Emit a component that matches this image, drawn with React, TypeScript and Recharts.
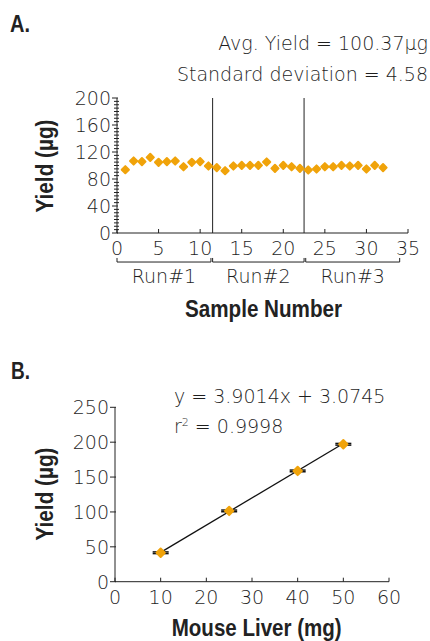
import { ScatterChart, Scatter, XAxis, YAxis, ReferenceLine, ReferenceArea, ErrorBar } from "recharts";

// panel A: yield per sample across three runs
const sampleNumbers = [1, 2, 3, 4, 5, 6, 7, 8, 9, 10, 11, 12, 13, 14, 15, 16, 17, 18, 19, 20, 21, 22, 23, 24, 25, 26, 27, 28, 29, 30, 31, 32];
const yieldsA = [93.8, 106.7, 105.7, 112, 104.7, 105.7, 106.7, 98.2, 104.7, 105.7, 99.3, 96.8, 92.3, 99.3, 100.2, 100.2, 100.2, 105.2, 95.8, 100.2, 98.2, 95.8, 93.3, 94.8, 98.2, 98.2, 100.2, 99.3, 100.2, 94.8, 100.2, 96.8];
const runNames = ["Run#1", "Run#2", "Run#3"];
const runStart = [0, 11.5, 22.7];
const runEnd = [11.3, 22.5, 34];
const runDividers = [11.5, 22.5];
const xTicksA = [0, 5, 10, 15, 20, 25, 30, 35];
const yTicksA = [0, 40, 80, 120, 160, 200];

// panel B: yield vs tissue mass
const liverMg = [10, 25, 40, 50];
const yieldsB = [41.5, 101.5, 158.8, 197];
const errB = [1.2, 1.2, 1.2, 1.2];
const slope = 3.9014;
const intercept = 3.0745;
const xTicksB = [0, 10, 20, 30, 40, 50, 60];
const yTicksB = [0, 50, 100, 150, 200, 250];

const ORANGE = "#F0A30A";
const INK = "#222";
const TXT = "#1e1e1e";
const TICK_FONT = "'DejaVu Sans', sans-serif";
const BOLD_FONT = "'Liberation Sans', Arial, sans-serif";
const TICK_SIZE = 19;
const TICK_WEIGHT = 300;

const dataA = sampleNumbers.map((x, i) => ({ x, y: yieldsA[i] }));
const dataB = liverMg.map((x, i) => ({ x, y: yieldsB[i], err: errB[i] }));
const minorA = Array.from({ length: 41 }, (_, i) => i * 5);

function Diamond({ cx, cy, r = 3.6 }: { cx: number; cy: number; r?: number }) {
  return (
    <path
      d={`M${cx},${cy - r} L${cx + r},${cy} L${cx},${cy + r} L${cx - r},${cy} Z`}
      fill={ORANGE}
      stroke={ORANGE}
      strokeWidth={2}
      strokeLinejoin="round"
    />
  );
}

function LightText({ x, y, anchor = "start", children }: any) {
  return (
    <text x={x} y={y} textAnchor={anchor} fontFamily={TICK_FONT} fontWeight={TICK_WEIGHT} fontSize={TICK_SIZE} fill={TXT}>
      {children}
    </text>
  );
}

function makeYTick(majors: number[]) {
  return (props: any) => {
    const { x, y, payload } = props;
    const v = payload.value;
    if (!majors.includes(v)) {
      return <line x1={x - 3} x2={x + 2} y1={y} y2={y} stroke={INK} strokeWidth={1} />;
    }
    return (
      <g>
        <line x1={x - 5} x2={x + 1} y1={y} y2={y} stroke={INK} strokeWidth={1} />
        <LightText x={x - 6} y={y + 7} anchor="end">{v}</LightText>
      </g>
    );
  };
}

function XTick(props: any) {
  const { x, y, payload } = props;
  return (
    <g>
      <line x1={x} x2={x} y1={y - 4} y2={y} stroke={INK} strokeWidth={1} />
      <LightText x={x} y={y + 22} anchor="middle">{payload.value}</LightText>
    </g>
  );
}

function Bracket(props: any, name: string) {
  const { x, y, width, height } = props;
  return (
    <g>
      <path
        d={`M${x},${y} L${x},${y + height} L${x + width},${y + height} L${x + width},${y}`}
        fill="none"
        stroke={INK}
        strokeWidth={1}
      />
      <LightText x={x + width / 2} y={y + height + 21} anchor="middle">{name}</LightText>
    </g>
  );
}

function BoldText({ x, y, len, rotate, anchor = "middle", children }: any) {
  return (
    <text
      x={x}
      y={y}
      transform={rotate ? `rotate(-90 ${x} ${y})` : undefined}
      textAnchor={anchor}
      fontFamily={BOLD_FONT}
      fontWeight="bold"
      fontSize={24}
      fill={INK}
      textLength={len}
      lengthAdjust="spacingAndGlyphs"
    >
      {children}
    </text>
  );
}

export default function App() {
  const lineStart = { x: liverMg[0], y: slope * liverMg[0] + intercept };
  const lineEnd = { x: liverMg[liverMg.length - 1], y: slope * liverMg[liverMg.length - 1] + intercept };
  return (
    <div style={{ position: "absolute", left: 0, top: 0, width: 430, height: 641, background: "#fff" }}>
      <div style={{ position: "absolute", left: 0, top: 0 }}>
        <ScatterChart width={430} height={340} margin={{ top: 98, right: 22, bottom: 77, left: 77 }}>
          <XAxis
            type="number"
            dataKey="x"
            domain={[0, 35]}
            ticks={xTicksA}
            interval={0}
            tickLine={false}
            tickSize={0}
            tickMargin={0}
            tick={XTick}
            axisLine={{ stroke: INK, strokeWidth: 1 }}
            height={30}
          />
          <YAxis
            type="number"
            dataKey="y"
            domain={[0, 200]}
            ticks={minorA}
            interval={0}
            tickLine={false}
            tickSize={0}
            tickMargin={0}
            tick={makeYTick(yTicksA)}
            axisLine={{ stroke: INK, strokeWidth: 1 }}
            width={40}
          />
          {runDividers.map((d) => (
            <ReferenceLine key={d} x={d} stroke={INK} strokeWidth={1} />
          ))}
          {runNames.map((name, i) => (
            <ReferenceArea
              key={name}
              x1={runStart[i]}
              x2={runEnd[i]}
              y1={-43}
              y2={-37}
              ifOverflow="visible"
              shape={(p: any) => Bracket(p, name)}
            />
          ))}
          <Scatter data={dataA} isAnimationActive={false} shape={(p: any) => <Diamond cx={p.cx} cy={p.cy} />} />
        </ScatterChart>
      </div>
      <div style={{ position: "absolute", left: 0, top: 340 }}>
        <ScatterChart width={430} height={301} margin={{ top: 67.3, right: 41, bottom: 29.3, left: 75 }}>
          <XAxis
            type="number"
            dataKey="x"
            domain={[0, 60]}
            ticks={xTicksB}
            interval={0}
            tickLine={false}
            tickSize={0}
            tickMargin={0}
            tick={XTick}
            axisLine={{ stroke: INK, strokeWidth: 1 }}
            height={30}
          />
          <YAxis
            type="number"
            dataKey="y"
            domain={[0, 250]}
            ticks={yTicksB}
            interval={0}
            tickLine={false}
            tickSize={0}
            tickMargin={0}
            tick={makeYTick(yTicksB)}
            axisLine={{ stroke: INK, strokeWidth: 1 }}
            width={40}
          />
          <ReferenceLine segment={[lineStart, lineEnd]} stroke="#111" strokeWidth={1.3} />
          {/* error bars first so the markers sit on top */}
          <Scatter data={dataB} isAnimationActive={false} shape={() => <g />}>
            <ErrorBar dataKey="err" direction="y" width={8} stroke="#111" strokeWidth={1.5} />
          </Scatter>
          <Scatter data={dataB} isAnimationActive={false} shape={(p: any) => <Diamond cx={p.cx} cy={p.cy} r={4.2} />} />
        </ScatterChart>
      </div>
      <svg width={430} height={641} style={{ position: "absolute", left: 0, top: 0, pointerEvents: "none" }}>
        <BoldText x={10} y={31.5} len={20} anchor="start">A.</BoldText>
        <LightText x={428} y={49.5} anchor="end">Avg. Yield = 100.37µg</LightText>
        <LightText x={428} y={80.5} anchor="end">Standard deviation = 4.58</LightText>
        <BoldText x={53} y={166} len={93} rotate>Yield (µg)</BoldText>
        <BoldText x={263.5} y={317.3} len={157}>Sample Number</BoldText>
        <BoldText x={11} y={379} len={19} anchor="start">B.</BoldText>
        <LightText x={174} y={403}>y = 3.9014x + 3.0745</LightText>
        <LightText x={174} y={433}>
          r<tspan dy={-7} fontSize={11}>2</tspan>
          <tspan dy={7}> = 0.9998</tspan>
        </LightText>
        <BoldText x={53} y={494} len={93} rotate>Yield (µg)</BoldText>
        <BoldText x={256.7} y={636} len={170}>Mouse Liver (mg)</BoldText>
      </svg>
    </div>
  );
}
